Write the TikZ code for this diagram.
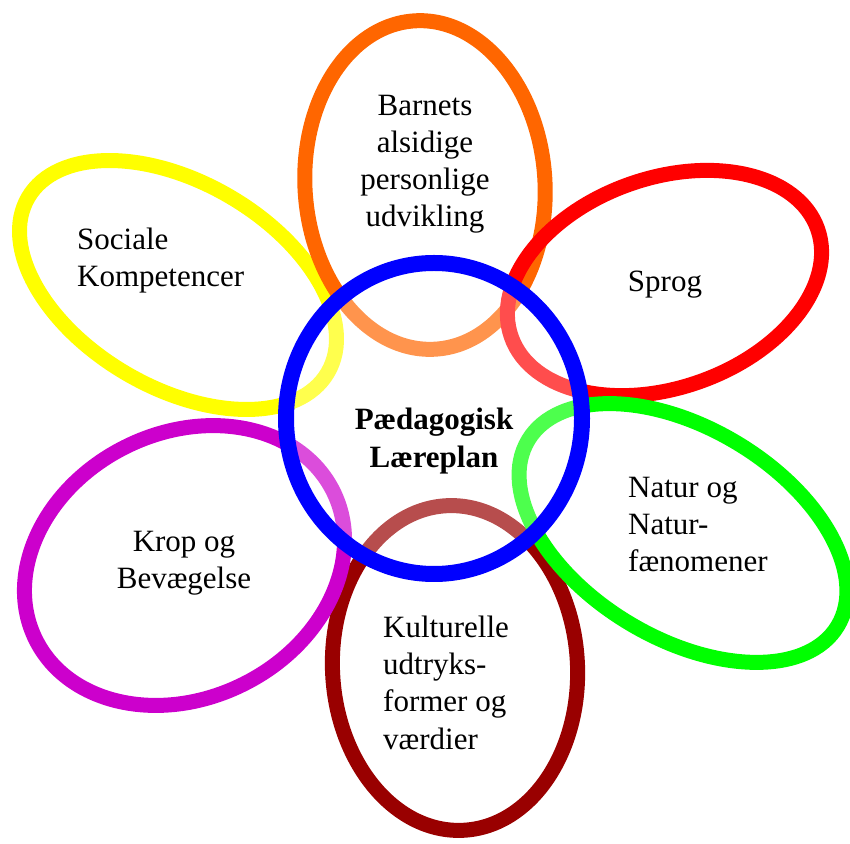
\documentclass[tikz,border=0pt]{standalone}
\usepackage{fontspec}
\setmainfont{Liberation Serif}
\definecolor{cOrange}{HTML}{FF6600}
\definecolor{cYellow}{HTML}{FFFF00}
\definecolor{cRed}{HTML}{FF0000}
\definecolor{cGreen}{HTML}{00FF00}
\definecolor{cMaroon}{HTML}{990000}
\definecolor{cMagenta}{HTML}{CC00CC}
\definecolor{cBlue}{HTML}{0000FF}
\begin{document}
\begin{tikzpicture}[x=1pt,y=1pt,
  petal/.style={line width=15pt},
  lbl/.style={inner sep=0pt, font=\fontsize{31}{37}\selectfont},
]
\useasboundingbox (0,0) rectangle (850,843);
% centres
\coordinate (cy) at (178,558);
\coordinate (co) at (425,658);
\coordinate (cr) at (664.5,560);
\coordinate (cm) at (455,175);
\coordinate (cg) at (683,310);
\coordinate (cp) at (184.5,277.5);
\coordinate (cb) at (434,424.5);
% petals
\draw[petal, cYellow, rotate around={-30.3:(cy)}] (cy) ellipse [x radius=173.5, y radius=102.5];
\draw[petal, cOrange, rotate around={3.7:(co)}] (co) ellipse [x radius=120, y radius=164.5];
\draw[petal, cRed, rotate around={19.4:(cr)}] (cr) ellipse [x radius=162.4, y radius=104.8];
\draw[petal, cMaroon, rotate around={3:(cm)}] (cm) ellipse [x radius=122.5, y radius=162.5];
\draw[petal, cGreen, rotate around={-31:(cg)}] (cg) ellipse [x radius=180.5, y radius=105];
\draw[petal, cMagenta, rotate around={26.6:(cp)}] (cp) ellipse [x radius=166.2, y radius=132.5];
% centre
\fill[white, opacity=0.3] (cb) ellipse [x radius=148, y radius=155.5];
\draw[cBlue, line width=16pt] (cb) ellipse [x radius=148, y radius=155.5];
% labels
\node[lbl, anchor=base] (tO) at (425,727) {\begin{tabular}[t]{@{}c@{}}Barnets\\ alsidige\\ personlige\\ udvikling\end{tabular}};
\node[lbl, anchor=base west] (tY) at (77,593) {\begin{tabular}[t]{@{}l@{}}Sociale\\ Kompetencer\end{tabular}};
\node[lbl, anchor=base] (tR) at (665,551) {Sprog};
\node[lbl, anchor=base, font=\fontsize{31}{38}\selectfont\bfseries] (tC) at (434,413) {\begin{tabular}[t]{@{}c@{}}Pædagogisk\\ Læreplan\end{tabular}};
\node[lbl, anchor=base west] (tG) at (628,345) {\begin{tabular}[t]{@{}l@{}}Natur og\\ Natur-\\ fænomener\end{tabular}};
\node[lbl, anchor=base] (tP) at (184,291) {\begin{tabular}[t]{@{}c@{}}Krop og\\ Bevægelse\end{tabular}};
\node[lbl, anchor=base west] (tM) at (383,205) {\begin{tabular}[t]{@{}l@{}}Kulturelle\\ udtryks-\\ former og\\ værdier\end{tabular}};
\end{tikzpicture}
\end{document}
